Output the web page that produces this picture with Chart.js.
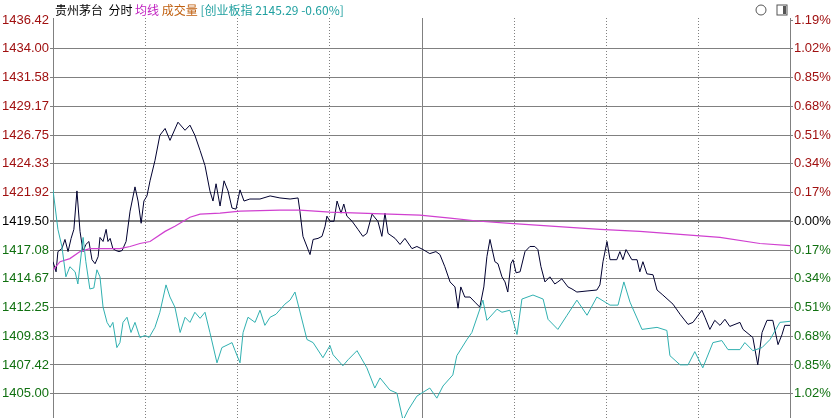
<!DOCTYPE html>
<html>
<head>
<meta charset="utf-8">
<script src="https://cdn.jsdelivr.net/npm/chart.js@4"></script>
<style>
html, body { margin: 0; padding: 0; background: #fff; overflow: hidden; }
#wrap { width: 839px; height: 460px; }
</style>
</head>
<body>
<div id="wrap"><canvas id="myChart"></canvas></div>
<script>
// 分时 price, minutes from open (0..240)
const priceMin = [0,1,1.6,2.9,3.9,4.9,5.9,6.8,7.8,8.8,9.8,10.7,11.7,12.7,13.7,14.7,15.3,16.3,17.3,17.9,18.6,19.5,20.5,21.5,22.5,23.8,25.1,26.7,27.7,28.7,29.6,30.6,31.6,33.2,34.8,36.5,38.1,40.7,43.0,44.6,46.2,47.9,49.5,51.1,52.1,53.1,54.4,55.7,57.0,58.3,59.6,60.9,62.2,64.1,67.4,70.7,73.9,77.2,79.8,80.4,81.4,83.7,84.7,86.3,87.6,88.6,89.2,90.2,91.5,92.5,93.8,94.7,95.7,97.4,99.3,100.9,102.2,103.9,105.8,107.1,108.1,109.1,111.4,113.0,114.6,116.9,118.5,120.5,122.7,124.7,126.0,127.6,129.3,130.9,131.9,132.8,134.1,135.8,137.4,139.0,140.3,141.3,142.3,143.9,144.9,146.2,147.2,148.1,149.1,149.8,150.8,152.1,153.7,155.3,156.9,157.9,158.9,160.2,161.8,163.4,164.4,165.7,167.7,169.0,170.6,173.9,177.1,178.1,179.1,180.4,181.4,183.6,184.6,185.6,186.6,188.5,190.2,191.1,192.1,193.4,195.4,196.7,198.6,201.9,204.2,206.8,208.4,211.3,212.3,213.9,215.5,217.2,218.8,220.4,223.7,224.7,227.9,229.5,230.9,232.5,234.4,236.1,237.4,238.3,240];
const priceVal = [1416.10,1415.25,1416.95,1417.20,1417.97,1416.95,1418.06,1418.82,1422.05,1418.65,1416.95,1417.55,1417.80,1416.27,1415.93,1416.53,1418.14,1417.80,1418.82,1417.80,1418.06,1417.20,1417.04,1416.95,1417.04,1417.80,1420.35,1422.39,1421.20,1419.33,1421.20,1421.63,1422.90,1424.60,1426.73,1427.30,1426.30,1427.83,1427.15,1427.58,1426.73,1425.45,1424.18,1422.05,1421.20,1422.65,1420.78,1422.90,1422.05,1420.61,1420.52,1422.14,1421.20,1421.37,1421.37,1421.63,1421.46,1421.37,1421.46,1420.35,1418.23,1416.70,1417.97,1418.06,1418.23,1419.08,1419.93,1419.50,1419.50,1421.20,1420.18,1420.95,1419.93,1419.50,1418.82,1418.23,1418.48,1420.10,1419.50,1418.23,1420.18,1418.48,1418.06,1417.55,1418.06,1417.20,1417.38,1417.12,1416.78,1416.95,1416.70,1415.68,1414.40,1413.98,1412.19,1413.98,1413.13,1413.13,1412.70,1412.28,1413.98,1416.53,1417.97,1416.10,1415.93,1414.83,1414.40,1413.55,1415.93,1416.27,1415.17,1415.25,1416.95,1417.38,1417.38,1417.12,1415.68,1414.40,1414.83,1414.23,1414.40,1414.66,1413.98,1413.81,1413.55,1413.64,1413.72,1414.15,1416.10,1417.80,1416.27,1416.27,1416.95,1416.27,1417.12,1416.27,1416.27,1415.25,1416.10,1415.08,1415.00,1413.72,1413.30,1412.53,1411.68,1410.83,1411.00,1412.02,1411.43,1410.41,1411.17,1410.75,1411.26,1410.66,1411.00,1410.41,1409.73,1407.43,1410.15,1411.17,1411.17,1409.13,1409.98,1410.75,1410.75];

// 均线
const avgMin = [0,2.3,5.5,8.8,12.0,21.8,25.1,28.3,31.6,36.5,39.7,44.6,47.9,54.4,60.9,73.9,80.4,90.2,100.0,109.7,119.5,129.3,139.0,148.8,158.6,168.3,178.1,191.1,204.2,217.2,230.2,240];
const avgVal = [1415.42,1416.10,1416.36,1416.95,1417.20,1417.20,1417.38,1417.63,1417.80,1418.65,1419.08,1419.84,1420.10,1420.18,1420.35,1420.44,1420.44,1420.27,1420.18,1420.10,1420.01,1419.76,1419.50,1419.33,1419.16,1418.99,1418.82,1418.65,1418.40,1418.14,1417.63,1417.46];

// 创业板指 overlay (scaled to price axis)
const idxMin = [0,1.6,2.9,4.2,5.5,7.2,8.1,9.8,10.7,12.0,13.3,14.3,15.3,16.3,17.6,18.6,19.5,20.8,21.8,22.8,24.1,25.4,26.7,28.3,30.0,31.3,33.2,34.8,36.8,38.1,39.7,41.4,43.0,44.6,46.2,47.9,49.5,51.1,53.4,55.0,57.0,58.3,59.3,60.9,61.9,63.5,65.8,67.4,69.0,70.7,72.6,75.5,77.2,78.8,82.7,84.7,87.9,90.2,91.2,94.4,96.1,99.0,102.2,104.8,106.5,109.7,112.0,114.0,115.6,118.5,122.7,125.0,127.0,130.2,131.5,134.8,136.4,140.0,141.3,144.6,146.2,148.8,151.1,152.7,156.3,159.6,161.2,164.4,167.4,170.6,173.9,177.1,181.4,184.0,185.9,187.9,191.8,196.7,199.9,200.9,204.2,206.8,209.0,211.6,214.9,217.8,219.8,223.7,225.3,227.9,230.9,233.5,236.7,240];
const idxVal = [1422.14,1418.82,1417.38,1414.83,1415.68,1415.25,1414.23,1418.14,1416.10,1413.81,1413.89,1415.42,1414.83,1412.28,1411.00,1410.58,1411.00,1408.88,1409.30,1411.00,1411.43,1410.15,1411.00,1409.73,1409.90,1409.73,1410.58,1411.85,1414.15,1413.13,1412.28,1410.15,1411.43,1411.00,1411.85,1411.34,1411.85,1410.15,1407.60,1408.88,1409.13,1409.30,1408.62,1407.60,1410.15,1411.43,1411.00,1412.02,1410.75,1411.43,1411.68,1412.53,1412.87,1413.55,1409.56,1409.30,1408.03,1409.05,1408.28,1407.35,1407.86,1408.62,1407.18,1405.48,1406.33,1405.31,1405.05,1402.76,1403.61,1404.80,1405.48,1404.63,1405.65,1406.58,1408.20,1409.56,1410.15,1412.87,1411.17,1412.11,1411.85,1412.02,1409.98,1412.96,1413.30,1412.96,1411.26,1410.41,1411.60,1412.87,1411.60,1413.13,1412.45,1412.45,1414.40,1412.70,1410.41,1410.58,1410.32,1408.20,1407.43,1407.43,1408.54,1407.18,1409.30,1409.47,1408.71,1408.71,1409.30,1408.62,1408.88,1409.56,1411.00,1411.09];

const leftTicks = ['1436.42','1434.00','1431.58','1429.17','1426.75','1424.33','1421.92','1419.50','1417.08','1414.67','1412.25','1409.83','1407.42','1405.00','',''];
const rightTicks = ['1.19%','1.02%','0.85%','0.68%','0.51%','0.34%','0.17%','0.00%','0.17%','0.34%','0.51%','0.68%','0.85%','1.02%','',''];
const tickVals = [1436.42,1434.00,1431.58,1429.17,1426.75,1424.33,1421.92,1419.50,1417.08,1414.67,1412.25,1409.83,1407.42,1405.00,1402.58,1400.17];
const timeLines = [30,60,90,120,150,180,210];
const preClose = 1419.50;

const tickColor = v => Math.abs(v - preClose) < 0.01 ? '#000000' : (v > preClose ? '#a01010' : '#107010');
const pts = (xs, ys) => xs.map((x, i) => ({ x: x, y: ys[i] }));

const header = {
    id: 'header',
    afterDraw(chart) {
        const c = chart.ctx;
        c.save();
        c.font = '12px "Noto Sans CJK SC", sans-serif';
        c.textBaseline = 'middle';
        let x = 55;
        [['贵州茅台', '#000000'], ['  分时 ', '#000000'], ['均线 ', '#c020c0'], ['成交量 ', '#c06010'], ['[创业板指 2145.29 -0.60%]', '#20a0a0']].forEach(p => {
            c.fillStyle = p[1];
            c.fillText(p[0], x, 10);
            x += c.measureText(p[0]).width;
        });
        c.strokeStyle = '#555';
        c.beginPath(); c.arc(761, 10, 5, 0, Math.PI * 2); c.stroke();
        c.strokeRect(777, 5, 10, 10);
        c.fillStyle = '#555'; c.fillRect(783, 6, 3, 8);
        // volume panel's top label, cut by the window
        c.font = '13px "Liberation Sans"';
        c.fillStyle = '#a01010';
        c.fillText('1410', 10, 424);
        c.restore();
    }
};

const vlines = {
    id: 'vlines',
    beforeDatasetsDraw(chart) {
        const c = chart.ctx, xs = chart.scales.x, a = chart.chartArea;
        c.save();
        c.strokeStyle = '#808080';
        c.lineWidth = 1;
        timeLines.forEach(t => {
            const px = Math.round(xs.getPixelForValue(t)) + 0.5;
            c.setLineDash(t === 120 ? [] : [1, 2]);
            c.beginPath(); c.moveTo(px, a.top - 2); c.lineTo(px, a.bottom); c.stroke();
        });
        c.setLineDash([]);
        const l = Math.round(a.left) + 0.5, r = Math.round(a.right) + 0.5;
        c.beginPath(); c.moveTo(l, a.top - 2); c.lineTo(l, a.bottom); c.stroke();
        c.beginPath(); c.moveTo(r, a.top - 2); c.lineTo(r, a.bottom); c.stroke();
        c.restore();
    }
};

const ctx = document.getElementById('myChart');
const myChart = new Chart(ctx, {
    type: 'line',
    data: {
        datasets: [
            { data: pts(idxMin, idxVal), borderColor: '#30b0b0', borderWidth: 1, pointRadius: 0, tension: 0 },
            { data: pts(avgMin, avgVal), borderColor: '#d040d0', borderWidth: 1.2, pointRadius: 0, tension: 0 },
            { data: pts(priceMin, priceVal), borderColor: '#000030', borderWidth: 1, pointRadius: 0, tension: 0 }
        ]
    },
    options: {
        animation: false,
        responsive: true,
        maintainAspectRatio: false,
        layout: { padding: { top: 20, bottom: 0 } },
        plugins: { legend: { display: false }, tooltip: { enabled: false } },
        scales: {
            x: {
                type: 'linear', min: 0, max: 240,
                ticks: { display: false },
                grid: { display: false },
                border: { display: false }
            },
            y: {
                min: tickVals[tickVals.length - 1], max: tickVals[0],
                afterBuildTicks: s => { s.ticks = tickVals.map(v => ({ value: v })); },
                afterFit: s => { s.width = 53; },
                ticks: {
                    padding: 1,
                    font: { family: 'Liberation Sans', size: 13 },
                    color: c => tickColor(c.tick.value),
                    callback: (v, i) => leftTicks[i]
                },
                grid: {
                    color: c => c.index === 0 ? 'rgba(0,0,0,0)' : '#808080',
                    lineWidth: c => Math.abs(c.tick.value - preClose) < 0.01 ? 2 : 1,
                    drawTicks: true, tickLength: 3
                },
                border: { display: false }
            },
            y2: {
                position: 'right',
                min: tickVals[tickVals.length - 1], max: tickVals[0],
                afterBuildTicks: s => { s.ticks = tickVals.map(v => ({ value: v })); },
                afterFit: s => { s.width = 49; },
                ticks: {
                    padding: 1,
                    font: { family: 'Liberation Sans', size: 13 },
                    color: c => tickColor(c.tick.value),
                    callback: (v, i) => rightTicks[i]
                },
                grid: { drawOnChartArea: false, color: '#808080', tickLength: 3 },
                border: { display: false }
            }
        }
    },
    plugins: [header, vlines]
});
</script>
</body>
</html>
